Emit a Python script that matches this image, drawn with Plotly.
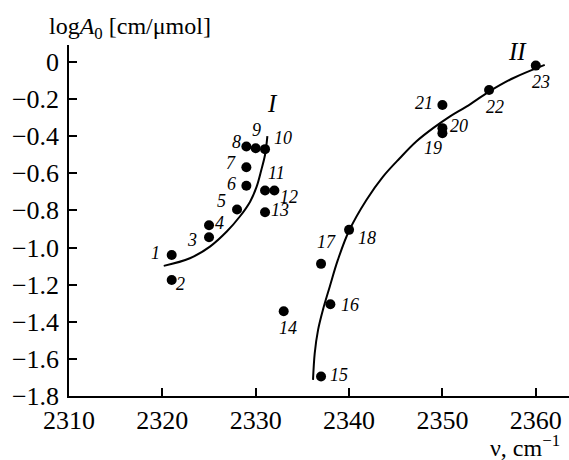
import plotly.graph_objects as go

# ---- data ----
point_ids = [str(i) for i in range(1, 24)]
nu = [2321, 2321, 2325, 2325, 2328, 2329, 2329, 2329, 2330, 2331, 2331, 2332, 2331,
      2333, 2337, 2338, 2337, 2340, 2350, 2350, 2350, 2355, 2360]
logA0 = [-1.04, -1.175, -0.945, -0.88, -0.795, -0.667, -0.568, -0.456, -0.465, -0.47,
         -0.693, -0.693, -0.81, -1.343, -1.695, -1.306, -1.088, -0.905, -0.384, -0.357,
         -0.232, -0.151, -0.02]

curve1_x = [2320.15, 2322.95, 2325.1, 2326.9, 2328.3, 2329.4, 2330.1, 2330.6, 2331.0, 2331.25]
curve1_y = [-1.099, -1.058, -0.995, -0.914, -0.833, -0.753, -0.672, -0.582, -0.50, -0.40]

curve2_x = [2336.14, 2336.32, 2336.68, 2337.2, 2337.93, 2338.8, 2340.0, 2341.86, 2343.64,
            2345.43, 2347.2, 2349.0, 2350.78, 2352.57, 2355.0, 2357.56, 2360.96]
curve2_y = [-1.713, -1.570, -1.444, -1.336, -1.211, -1.067, -0.91, -0.744, -0.618,
            -0.519, -0.429, -0.357, -0.295, -0.241, -0.160, -0.088, -0.016]

x_ticks = [2310, 2320, 2330, 2340, 2350, 2360]
y_ticks = [0, -0.2, -0.4, -0.6, -0.8, -1.0, -1.2, -1.4, -1.6, -1.8]
y_tick_text = ["0", "−0.2", "−0.4", "−0.6", "−0.8", "−1.0", "−1.2", "−1.4", "−1.6", "−1.8"]

# label offsets in pixels (dx, dy) from each point
label_dx = [-16, 9, -17, 10, -16, -15, -15, -10, 1, 18, 11, 15, 15, 4, 18, 20, 5, 18, -9, 17, -18, 6, 5]
label_dy = [-2, 4, 3, -2, -8, -2, -4, -5, -18, -11, -18, 6, -2, 17, -2, 1, -22, 8, 15, -2, -2, 17, 16]

curve_names = ["I", "II"]
curve_name_x = [2331.85, 2358.0]
curve_name_y = [-0.222, 0.055]

FONT = "Liberation Serif"

fig = go.Figure()
fig.add_trace(go.Scatter(x=curve1_x, y=curve1_y, mode="lines", line=dict(color="black", width=2, shape="spline"),
                         hoverinfo="skip"))
fig.add_trace(go.Scatter(x=curve2_x, y=curve2_y, mode="lines", line=dict(color="black", width=2, shape="spline"),
                         hoverinfo="skip"))
fig.add_trace(go.Scatter(x=nu, y=logA0, mode="markers", marker=dict(color="black", size=10)))

for pid, x, y, dx, dy in zip(point_ids, nu, logA0, label_dx, label_dy):
    fig.add_annotation(x=x, y=y, text=f"<i>{pid}</i>", showarrow=True, arrowcolor="rgba(0,0,0,0)",
                       ax=dx, ay=dy, font=dict(family=FONT, size=18, color="black"))

for name, x, y in zip(curve_names, curve_name_x, curve_name_y):
    fig.add_annotation(x=x, y=y, text=f"<i>{name}</i>", showarrow=False,
                       font=dict(family=FONT, size=25, color="black"))

fig.add_annotation(xref="paper", yref="paper", x=-0.044, y=1.048, xanchor="left", yanchor="middle",
                   text="log<i>A</i><sub>0</sub> [cm/μmol]", showarrow=False,
                   font=dict(family=FONT, size=24, color="black"))
fig.add_annotation(xref="paper", yref="paper", x=0.985, y=-0.142, xanchor="right", yanchor="middle",
                   text="ν, cm<sup>−1</sup>", showarrow=False,
                   font=dict(family=FONT, size=24, color="black"))

fig.update_layout(
    width=569, height=460,
    margin=dict(l=69, r=0, t=45, b=64),
    paper_bgcolor="white", plot_bgcolor="white",
    showlegend=False,
    font=dict(family=FONT, size=26, color="black"),
    xaxis=dict(range=[2310, 2363.56], tickvals=x_ticks, ticks="inside", ticklen=8, tickwidth=1.5,
               tickcolor="black", showline=True, linecolor="black", linewidth=1.5, showgrid=False,
               zeroline=False, mirror=False, tickfont=dict(family=FONT, size=26)),
    yaxis=dict(range=[-1.8, 0.091], tickvals=y_ticks, ticktext=y_tick_text, ticks="inside", ticklen=8,
               tickwidth=1.5, tickcolor="black", showline=True, linecolor="black", linewidth=1.5,
               showgrid=False, zeroline=False, mirror=False, tickfont=dict(family=FONT, size=26),
               ticklabelstandoff=3),
)

fig.write_html("out.html", config={"displayModeBar": False},
               post_script="document.body.style.margin='0';")
